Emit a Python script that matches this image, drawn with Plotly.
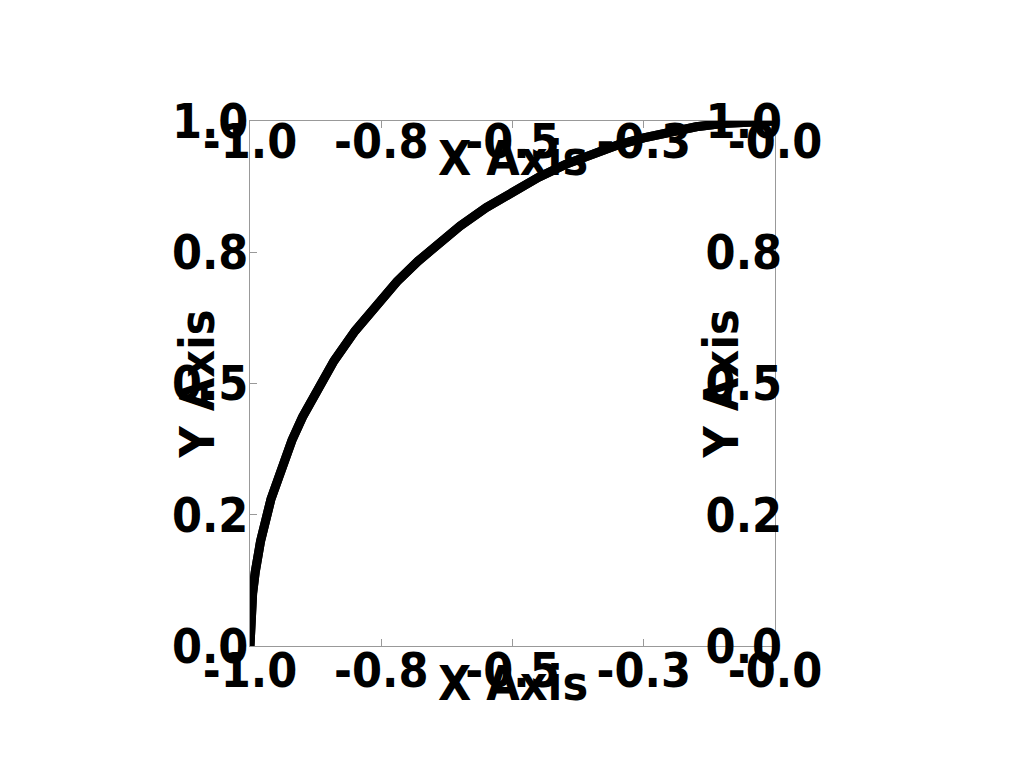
import plotly.graph_objects as go

# curve points (quarter arc)
x_vals = [-1.0, -0.999, -0.995, -0.99, -0.98, -0.96, -0.94, -0.92, -0.9, -0.87, -0.84, -0.8, -0.76, -0.72,
          -0.68, -0.64, -0.6, -0.55, -0.5, -0.45, -0.4, -0.35, -0.3, -0.25, -0.2, -0.15, -0.1, -0.05, 0.0]
y_vals = [0.0, 0.045, 0.10, 0.141, 0.199, 0.280, 0.341, 0.392, 0.436, 0.493, 0.543, 0.600, 0.650, 0.694,
          0.733, 0.768, 0.800, 0.835, 0.866, 0.893, 0.917, 0.937, 0.954, 0.968, 0.980, 0.989, 0.995, 0.999, 1.0]

x_tickvals = [-1.0, -0.75, -0.5, -0.25, 0.0]
x_ticktext = ["-1.0", "-0.8", "-0.5", "-0.3", "-0.0"]
y_tickvals = [0.0, 0.25, 0.5, 0.75, 1.0]
y_ticktext = ["0.0", "0.2", "0.5", "0.8", "1.0"]

x_title = "X Axis"
y_title = "Y Axis"

FONT = "Liberation Sans Narrow, DejaVu Sans Condensed, sans-serif"
TICKFONT = dict(family=FONT, size=48, color="black", weight="bold")
AXCOL = "#999999"

fig = go.Figure()
fig.add_trace(go.Scatter(x=x_vals, y=y_vals, mode="lines", line=dict(color="black", width=9),
                         showlegend=False, hoverinfo="skip"))
fig.add_trace(go.Scatter(x=x_vals, y=y_vals, xaxis="x2", yaxis="y2", mode="lines",
                         line=dict(color="black", width=9), showlegend=False, hoverinfo="skip"))

common = dict(showgrid=False, zeroline=False, showline=True, linecolor=AXCOL, linewidth=1,
              ticks="inside", ticklen=7, tickcolor=AXCOL, tickfont=TICKFONT, tickmode="array")

fig.update_layout(
    width=1024, height=768, autosize=False,
    margin=dict(l=242, r=257, t=113, b=130),
    paper_bgcolor="white", plot_bgcolor="white",
    xaxis=dict(range=[-1, 0], tickvals=x_tickvals, ticktext=x_ticktext, side="bottom",
               ticklabelstandoff=-18, **common),
    yaxis=dict(range=[0, 1], tickvals=y_tickvals, ticktext=y_ticktext, side="left",
               ticklabelstandoff=-9, **common),
    xaxis2=dict(range=[-1, 0], tickvals=x_tickvals, ticktext=x_ticktext, side="top", overlaying="x",
                ticklabelstandoff=-57, **common),
    yaxis2=dict(range=[0, 1], tickvals=y_tickvals, ticktext=y_ticktext, side="right", overlaying="y",
                ticklabelstandoff=-80, **common),
    annotations=[
        dict(text=x_title, x=0.5, y=-0.07, xref="paper", yref="paper", showarrow=False,
             font=dict(family=FONT, size=48, color="black", weight="bold"), xanchor="center", yanchor="middle"),
        dict(text=x_title, x=0.5, y=0.93, xref="paper", yref="paper", showarrow=False,
             font=dict(family=FONT, size=48, color="black", weight="bold"), xanchor="center", yanchor="middle"),
        dict(text=y_title, x=-0.101, y=0.5, xref="paper", yref="paper", showarrow=False, textangle=-90,
             font=dict(family=FONT, size=48, color="black", weight="bold"), xanchor="center", yanchor="middle"),
        dict(text=y_title, x=0.897, y=0.5, xref="paper", yref="paper", showarrow=False, textangle=-90,
             font=dict(family=FONT, size=48, color="black", weight="bold"), xanchor="center", yanchor="middle"),
    ],
)

fig.write_html("out.html")
